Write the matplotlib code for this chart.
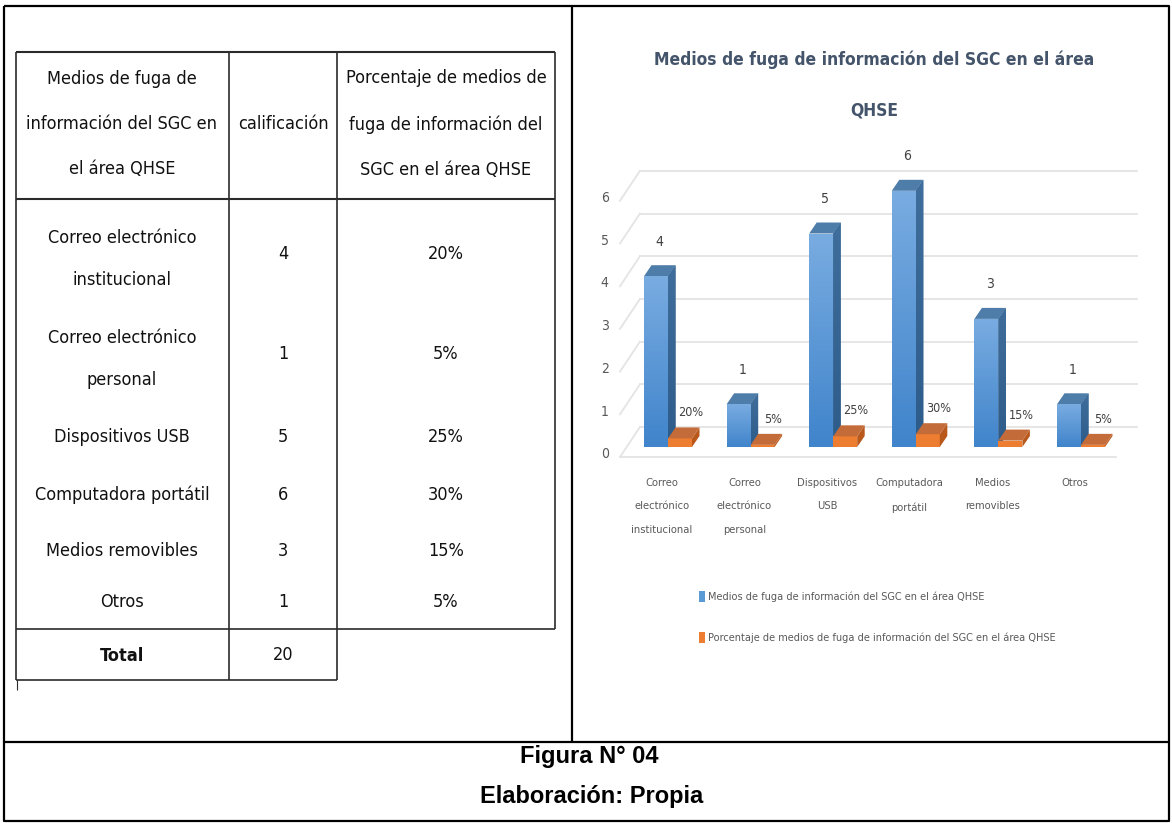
"""
Figura N° 04: tabla y gráfico de barras (estilo 3D) de los medios de fuga
de información del SGC en el área QHSE.
"""

import numpy as np
import matplotlib
matplotlib.use("Agg")
import matplotlib.pyplot as plt
from matplotlib.patches import Polygon
from matplotlib.colors import LinearSegmentedColormap

# ── datos ─────────────────────────────────────────────────────────────────────
categorias = [
    "Correo electrónico institucional",
    "Correo electrónico personal",
    "Dispositivos USB",
    "Computadora portátil",
    "Medios removibles",
    "Otros",
]
etiquetas_tabla = [
    "Correo electrónico\ninstitucional",
    "Correo electrónico\npersonal",
    "Dispositivos USB",
    "Computadora portátil",
    "Medios removibles",
    "Otros",
]
etiquetas_eje = [
    "Correo\nelectrónico\ninstitucional",
    "Correo\nelectrónico\npersonal",
    "Dispositivos\nUSB",
    "Computadora\nportátil",
    "Medios\nremovibles",
    "Otros",
]
calificacion = [4, 1, 5, 6, 3, 1]
porcentaje = [20, 5, 25, 30, 15, 5]
total = 20
ticks_y = [0, 1, 2, 3, 4, 5, 6]

encabezados = [
    "Medios de fuga de\ninformación del SGC en\nel área QHSE",
    "calificación",
    "Porcentaje de medios de\nfuga de información del\nSGC en el área QHSE",
]
titulo = "Medios de fuga de información del SGC en el área\nQHSE"
serie_1 = "Medios de fuga de información del SGC en el área QHSE"
serie_2 = "Porcentaje de medios de fuga de información del SGC en el área QHSE"

# ── estilo ────────────────────────────────────────────────────────────────────
NARROW = ["Liberation Sans Narrow", "DejaVu Sans"]
ARIAL = ["Liberation Sans", "DejaVu Sans"]
GRIS_TXT = "#595959"
GRIS_GRID = "#E4E4E4"
LINEA_TABLA = "#2b2b2b"
TXT_TABLA = dict(family=NARROW, fontstretch="condensed", fontsize=13, color="#111111",
                 ha="center", va="center")

W, H = 1172, 823
fig = plt.figure(figsize=(W / 100, H / 100), dpi=100)

# lienzo en píxeles para marcos, tabla y leyenda de la figura
base = fig.add_axes([0, 0, 1, 1])
base.set_xlim(0, W)
base.set_ylim(H, 0)
base.axis("off")


def linea(x, y, lw=1.5, color="black"):
    base.plot(x, y, color=color, lw=lw, solid_capstyle="butt")


# marco exterior y divisiones
linea([4, 1169, 1169, 4, 4], [6, 6, 821, 821, 6], lw=1.6)
linea([572, 572], [6, 742], lw=1.6)
linea([4, 1169], [742, 742], lw=1.6)

# ── tabla ─────────────────────────────────────────────────────────────────────
col_x = [16, 229, 337, 555]
col_c = [122, 283, 446]
y_top, y_head, y_body, y_tot = 52, 199, 629, 680

linea([col_x[0], col_x[3]], [y_top, y_top], lw=1.5, color=LINEA_TABLA)
linea([col_x[0], col_x[3]], [y_head, y_head], lw=1.5, color=LINEA_TABLA)
linea([col_x[0], col_x[3]], [y_body, y_body], lw=1.2, color=LINEA_TABLA)
linea([col_x[0], col_x[2]], [y_tot, y_tot], lw=1.2, color=LINEA_TABLA)
for cx in col_x[:3]:
    linea([cx, cx], [y_top, y_tot], lw=1.2, color=LINEA_TABLA)
linea([col_x[3], col_x[3]], [y_top, y_body], lw=1.2, color=LINEA_TABLA)
linea([17, 17], [y_tot, 690], lw=0.8, color=LINEA_TABLA)

for cx, txt in zip(col_c, encabezados):
    base.text(cx, 124, txt, linespacing=2.95, **TXT_TABLA)

fila_y = [259, 359, 437, 495, 551, 602]
for y, lab, n, p in zip(fila_y, etiquetas_tabla, calificacion, porcentaje):
    dos = "\n" in lab
    base.text(col_c[0], y, lab, linespacing=2.75, **TXT_TABLA)
    base.text(col_c[1], y - 5 if dos else y, str(n), **TXT_TABLA)
    base.text(col_c[2], y - 5 if dos else y, f"{p}%", **TXT_TABLA)

base.text(col_c[0], 656, "Total", fontweight="bold", **TXT_TABLA)
base.text(col_c[1], 655, str(total), **TXT_TABLA)

# ── gráfico de barras con profundidad ─────────────────────────────────────────
PX_X, PX_Y = 82.6, 42.7          # píxeles por categoría / por unidad
X0, Y0 = 656, 447                 # origen (centro barra azul 0, base)
ax_l, ax_r, ax_t, ax_b = 595, 1160, 140, 470
ax = fig.add_axes([ax_l / W, 1 - ax_b / H, (ax_r - ax_l) / W, (ax_b - ax_t) / H])
ax.axis("off")

DX, DY = 7.5 / PX_X, 11 / PX_Y    # profundidad de cada barra
piso_f = -10 / PX_Y               # borde frontal del piso
pared = 20 / PX_Y                 # desplazamiento de la pared del fondo
x_f, x_b, x_r, x_rf = -0.436, -0.194, 5.82, 5.57

for v in ticks_y:
    ax.plot([x_f, x_b], [v + piso_f, v + pared], color=GRIS_GRID, lw=1.3, zorder=1)
    ax.plot([x_b, x_r], [v + pared, v + pared], color=GRIS_GRID, lw=1.3, zorder=1)
    ax.text(-0.62, v - 0.17, str(v), ha="center", va="center", fontsize=10,
            family=NARROW, fontstretch="condensed", color=GRIS_TXT)
ax.plot([x_f, x_rf], [piso_f, piso_f], color=GRIS_GRID, lw=1.3, zorder=1)

bw = 24 / PX_X
xs = np.arange(len(categorias))
frac = [p / 100 for p in porcentaje]

azul = ax.bar(xs, calificacion, width=bw, color="#5B9BD5", label=serie_1, zorder=3)
naranja = ax.bar(xs + bw, frac, width=bw, color="#ED7D31", label=serie_2, zorder=4)

grad = np.linspace(0, 1, 256).reshape(-1, 1)
cm_frente = LinearSegmentedColormap.from_list("frente", ["#4084CB", "#79ACE1"])
cm_lado = LinearSegmentedColormap.from_list("lado", ["#2D5B8A", "#3F6D9C"])


def caras(rect, c_lado, c_top, z, cm=None):
    x, w, h = rect.get_x(), rect.get_width(), rect.get_height()
    xr = x + w
    lado = Polygon([(xr, 0), (xr + DX, DY), (xr + DX, h + DY), (xr, h)],
                   closed=True, color=c_lado, lw=0, zorder=z)
    top = Polygon([(x, h), (x + DX, h + DY), (xr + DX, h + DY), (xr, h)],
                  closed=True, color=c_top, lw=0, zorder=z)
    ax.add_patch(lado)
    ax.add_patch(top)
    if cm is not None:
        im = ax.imshow(grad, extent=[xr, xr + DX, 0, h + DY], origin="lower",
                       cmap=cm_lado, aspect="auto", zorder=z + 0.05)
        im.set_clip_path(lado)
        im = ax.imshow(grad, extent=[x, xr, 0, h], origin="lower",
                       cmap=cm, aspect="auto", zorder=z + 0.1)
        im.set_clip_path(rect)


for r in azul:
    caras(r, "#34628F", "#4F7DAA", 3, cm=cm_frente)
for r in naranja:
    caras(r, "#B9581B", "#C46C39", 4)

for r, v in zip(azul, calificacion):
    ax.annotate(str(v), (r.get_x() + r.get_width() / 2 + DX / 2, v + DY),
                xytext=(0, 17), textcoords="offset points", ha="center", va="center",
                fontsize=10, family=NARROW, fontstretch="condensed", color="#404040")
for r, p, f in zip(naranja, porcentaje, frac):
    ax.annotate(f"{p}%", (r.get_x() + r.get_width() / 2, f + DY),
                xytext=(7.5, 10.5), textcoords="offset points", ha="center", va="center",
                fontsize=9, family=NARROW, fontstretch="condensed", color="#404040")

for x, lab in zip(xs, etiquetas_eje):
    ax.text(x + 0.07, -0.72, lab, ha="center", va="top", fontsize=8,
            family=NARROW, fontstretch="condensed", linespacing=2.7,
            color=GRIS_TXT, clip_on=False)

ax.set_xlim((ax_l - X0) / PX_X, (ax_r - X0) / PX_X)
ax.set_ylim(-(ax_b - Y0) / PX_Y, (Y0 - ax_t) / PX_Y)

fig.text(874 / W, 1 - 85 / H, titulo, ha="center", va="center", fontsize=12.5,
         family=NARROW, fontstretch="condensed", fontweight="bold",
         linespacing=3.3, color="#44546A")

fig.legend(handles=[azul, naranja], labels=[serie_1, serie_2],
           loc="upper left", bbox_to_anchor=(699 / W, 1 - 591 / H),
           frameon=False, handlelength=0.55, handleheight=1.2, handletextpad=0.3,
           labelspacing=2.75, borderpad=0, borderaxespad=0,
           prop={"family": NARROW, "size": 7.8, "stretch": "condensed"},
           labelcolor=GRIS_TXT)

# pie de figura
fig.text(589 / W, 1 - 756 / H, "Figura N° 04", ha="center", va="center",
         fontsize=17, fontweight="bold", family=ARIAL)
fig.text(592 / W, 1 - 797 / H, "Elaboración: Propia", ha="center", va="center",
         fontsize=17, fontweight="bold", family=ARIAL)

fig.savefig("out.png", dpi=100)
